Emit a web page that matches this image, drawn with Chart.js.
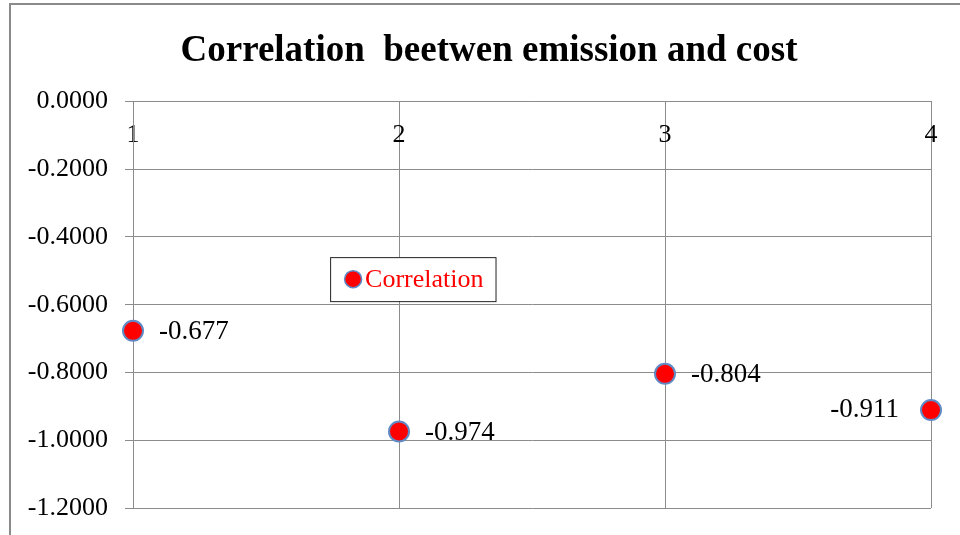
<!DOCTYPE html>
<html>
<head>
<meta charset="utf-8">
<title>Correlation beetwen emission and cost</title>
<script src="https://cdn.jsdelivr.net/npm/chart.js@4.4.1/dist/chart.umd.min.js"></script>
<style>
  body { margin: 0; background: #fff; }
  canvas { display: block; }
</style>
</head>
<body>
<canvas id="corrChart" width="960" height="535"></canvas>
<script>
// data
const categories = ["1", "2", "3", "4"];
const correlation = [-0.677, -0.974, -0.804, -0.911];
const seriesName = "Correlation";
const chartTitle = "Correlation  beetwen emission and cost";

const gridColor = "#8c8c8c";
const serif = "'Liberation Serif', 'Times New Roman', serif";

// grey frame like the excel chart border
const framePlugin = {
  id: "frame",
  beforeDraw(chart) {
    // let the y labels use the space left of the axis box (it is narrowed so the title centres like excel)
    chart.scales.y.left = 0;
    const ctx = chart.ctx;
    ctx.save();
    ctx.strokeStyle = "#8a8a8a";
    ctx.lineWidth = 2;
    ctx.beginPath();
    ctx.moveTo(10, chart.height);
    ctx.lineTo(10, 4);
    ctx.lineTo(chart.width, 4);
    ctx.stroke();
    ctx.restore();
  }
};

// value labels next to the points
const valueLabels = {
  id: "valueLabels",
  afterDatasetsDraw(chart, args, opts) {
    const ctx = chart.ctx;
    const meta = chart.getDatasetMeta(0);
    const vals = chart.data.datasets[0].data;
    ctx.save();
    ctx.font = "27px " + serif;
    ctx.fillStyle = "#000";
    ctx.textBaseline = "middle";
    meta.data.forEach((pt, i) => {
      const txt = vals[i].toFixed(3);
      if (opts.side[i] === "left") {
        ctx.textAlign = "right";
        ctx.fillText(txt, pt.x - 32, pt.y);
      } else {
        ctx.textAlign = "left";
        ctx.fillText(txt, pt.x + 26, pt.y + 1);
      }
    });
    ctx.restore();
  }
};

// legend box floating inside the plot
const floatLegend = {
  id: "floatLegend",
  afterDraw(chart, args, opts) {
    const ctx = chart.ctx;
    const area = chart.chartArea;
    const ds = chart.data.datasets[0];
    const left = area.left + opts.fx * (area.right - area.left);
    const top = area.top + opts.fy * (area.bottom - area.top);
    ctx.save();
    ctx.font = "26px " + serif;
    const w = ctx.measureText(ds.label).width;
    const boxW = 36 + w + 11;
    const boxH = 44;
    ctx.fillStyle = "#fff";
    ctx.fillRect(left, top, boxW, boxH);
    ctx.strokeStyle = "#222";
    ctx.lineWidth = 1;
    ctx.strokeRect(left + 0.5, top + 0.5, boxW, boxH);
    ctx.beginPath();
    ctx.arc(left + 23, top + boxH / 2, 8.5, 0, Math.PI * 2);
    ctx.fillStyle = ds.backgroundColor;
    ctx.fill();
    ctx.strokeStyle = ds.borderColor;
    ctx.lineWidth = 1.5;
    ctx.stroke();
    ctx.fillStyle = "#ff0000";
    ctx.textAlign = "left";
    ctx.textBaseline = "middle";
    ctx.fillText(ds.label, left + 35, top + boxH / 2 + 1);
    ctx.restore();
  }
};

const ctx = document.getElementById("corrChart").getContext("2d");
new Chart(ctx, {
  type: "line",
  data: {
    labels: categories,
    datasets: [
      {
        label: seriesName,
        data: correlation,
        showLine: false,
        backgroundColor: "#ff0000",
        borderColor: "#5f8ac6",
        pointRadius: 10,
        pointHoverRadius: 10,
        pointBorderWidth: 2,
      },
    ],
  },
  options: {
    responsive: false,
    animation: false,
    layout: {
      padding: { left: 47, right: 29, top: 0, bottom: 27 },
    },
    plugins: {
      legend: { display: false },
      tooltip: { enabled: false },
      title: {
        display: true,
        text: chartTitle,
        color: "#000",
        font: { family: serif, size: 37, weight: "bold" },
        padding: { top: 29, bottom: 28 },
      },
      valueLabels: { side: ["right", "right", "right", "left"] },
      floatLegend: { fx: 0.247, fy: 0.383 },
    },
    scales: {
      x: {
        position: "top",
        offset: false,
        afterFit(scale) { scale.height = 0; },
        grid: { color: gridColor, drawTicks: false, offset: false },
        border: { color: gridColor },
        ticks: {
          mirror: true,
          padding: 18,
          color: "#000",
          font: { family: serif, size: 26 },
        },
      },
      y: {
        min: -1.2,
        max: 0,
        afterFit(scale) {
          scale.width = 86;
          scale.paddingTop = 0;
          scale.paddingBottom = 0;
        },
        grid: { color: gridColor, tickLength: 8 },
        border: { color: gridColor },
        ticks: {
          stepSize: 0.2,
          padding: 17,
          color: "#000",
          font: { family: serif, size: 26 },
          callback: (v) => v.toFixed(4),
        },
      },
    },
  },
  plugins: [framePlugin, valueLabels, floatLegend],
});
</script>
</body>
</html>
